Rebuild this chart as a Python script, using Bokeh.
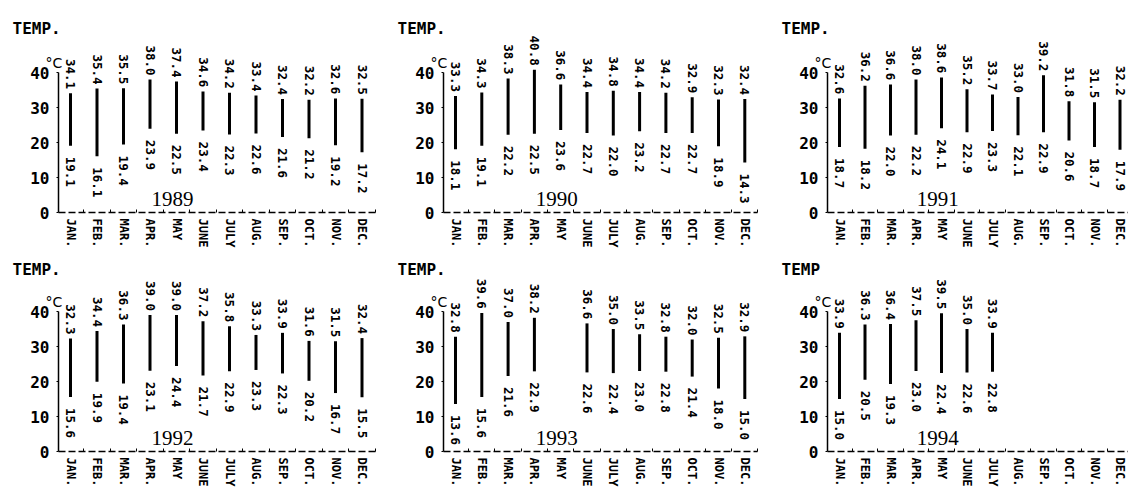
import math
from bokeh.plotting import figure
from bokeh.models import ColumnDataSource, Range1d, FixedTicker
from bokeh.layouts import gridplot
from bokeh.embed import file_html
from bokeh.resources import INLINE
from bokeh.core.properties import value

months = ["JAN.", "FEB.", "MAR.", "APR.", "MAY", "JUNE", "JULY",
          "AUG.", "SEP.", "OCT.", "NOV.", "DEC."]
y_ticks = [0, 10, 20, 30, 40]

years = ["1989", "1990", "1991", "1992", "1993", "1994"]
titles = ["TEMP.", "TEMP.", "TEMP.", "TEMP.", "TEMP.", "TEMP"]

max_1989 = [34.1, 35.4, 35.5, 38.0, 37.4, 34.6, 34.2, 33.4, 32.4, 32.2, 32.6, 32.5]
min_1989 = [19.1, 16.1, 19.4, 23.9, 22.5, 23.4, 22.3, 22.6, 21.6, 21.2, 19.2, 17.2]

max_1990 = [33.3, 34.3, 38.3, 40.8, 36.6, 34.4, 34.8, 34.4, 34.2, 32.9, 32.3, 32.4]
min_1990 = [18.1, 19.1, 22.2, 22.5, 23.6, 22.7, 22.0, 23.2, 22.7, 22.7, 18.9, 14.3]

max_1991 = [32.6, 36.2, 36.6, 38.0, 38.6, 35.2, 33.7, 33.0, 39.2, 31.8, 31.5, 32.2]
min_1991 = [18.7, 18.2, 22.0, 22.2, 24.1, 22.9, 23.3, 22.1, 22.9, 20.6, 18.7, 17.9]

max_1992 = [32.3, 34.4, 36.3, 39.0, 39.0, 37.2, 35.8, 33.3, 33.9, 31.6, 31.5, 32.4]
min_1992 = [15.6, 19.9, 19.4, 23.1, 24.4, 21.7, 22.9, 23.3, 22.3, 20.2, 16.7, 15.5]

max_1993 = [32.8, 39.6, 37.0, 38.2, None, 36.6, 35.0, 33.5, 32.8, 32.0, 32.5, 32.9]
min_1993 = [13.6, 15.6, 21.6, 22.9, None, 22.6, 22.4, 23.0, 22.8, 21.4, 18.0, 15.0]

max_1994 = [33.9, 36.3, 36.4, 37.5, 39.5, 35.0, 33.9]
min_1994 = [15.0, 20.5, 19.3, 23.0, 22.4, 22.6, 22.8]

series = [(max_1989, min_1989), (max_1990, min_1990), (max_1991, min_1991),
          (max_1992, min_1992), (max_1993, min_1993), (max_1994, min_1994)]

MONO = "DejaVu Sans Mono"
SY = 3.5  # px per degree


def panel(idx, width, sx, axis_px, height, zero_px, title_y):
    tmax, tmin = series[idx]
    xs, hi, lo = [], [], []
    for i, (a, b) in enumerate(zip(tmax, tmin)):
        if a is None or b is None:
            continue
        xs.append(i + 1)
        hi.append(a)
        lo.append(b)
    src = ColumnDataSource(dict(x=xs, hi=hi, lo=lo,
                                hi_t=["%.1f" % v for v in hi],
                                lo_t=["%.1f" % v for v in lo]))
    ax_x = 1 - 12.0 / sx
    x0 = 1 - (axis_px + 12.0) / sx
    x1 = x0 + width / sx
    y0 = -(height - zero_px) / SY
    y1 = zero_px / SY
    p = figure(width=width, height=height, output_backend="svg", toolbar_location=None,
               title=None, x_range=Range1d(x0, x1), y_range=Range1d(y0, y1),
               min_border_left=0, min_border_right=0,
               min_border_top=0, min_border_bottom=0)
    p.outline_line_color = None
    p.xgrid.visible = False
    p.ygrid.visible = False
    p.background_fill_color = "white"
    p.border_fill_color = "white"

    p.segment(x0="x", y0="lo", x1="x", y1="hi", source=src,
              line_width=3, line_color="black")
    p.text(x="x", y="hi", text="hi_t", source=src, angle=-math.pi / 2,
           text_align="right", text_baseline="middle", y_offset=-4,
           text_font=value(MONO), text_font_style="bold",
           text_font_size="12.5px", text_color="black")
    p.text(x="x", y="lo", text="lo_t", source=src, angle=-math.pi / 2,
           text_align="left", text_baseline="middle", y_offset=11,
           text_font=value(MONO), text_font_style="bold",
           text_font_size="12.5px", text_color="black")
    p.text(x=[4.85], y=[3.8], text=[years[idx]], text_align="center",
           text_baseline="middle", text_font=value("Liberation Serif"),
           text_font_size="21px", text_color="black")
    p.text(x=[ax_x], y=[title_y], text=[titles[idx]], x_offset=-46,
           text_align="left", text_baseline="alphabetic",
           text_font=value(MONO), text_font_style="bold",
           text_font_size="16px", text_color="black")
    p.text(x=[ax_x], y=[42.8], text=["°C"], x_offset=-13,
           text_align="left", text_baseline="alphabetic",
           text_font=value("DejaVu Sans"), text_font_size="14px",
           text_color="black")

    # y axis
    ya = p.yaxis[0]
    ya.fixed_location = ax_x
    ya.ticker = FixedTicker(ticks=y_ticks)
    ya.bounds = (0, 40)
    ya.axis_line_color = "black"
    ya.axis_line_width = 1.5
    ya.major_tick_in = 0
    ya.major_tick_out = 2
    ya.minor_tick_line_color = None
    ya.major_label_standoff = 7
    ya.major_label_text_font = MONO
    ya.major_label_text_font_style = "bold"
    ya.major_label_text_font_size = "16px"
    ya.major_label_text_color = "black"

    # x axis
    xa = p.xaxis[0]
    xa.fixed_location = 0
    xa.bounds = (ax_x, 12.5)
    xa.ticker = FixedTicker(ticks=list(range(1, 13)),
                            minor_ticks=[i + 0.5 for i in range(1, 13)])
    xa.major_label_overrides = {i + 1: m for i, m in enumerate(months)}
    xa.major_label_orientation = -math.pi / 2
    xa.axis_line_color = "black"
    xa.axis_line_width = 1.5
    xa.axis_line_dash = "7 3"
    xa.major_tick_in = 0
    xa.major_tick_out = 0
    xa.minor_tick_in = 3
    xa.minor_tick_out = 0
    xa.minor_tick_line_color = "black"
    xa.major_label_standoff = 6
    xa.major_label_text_font = MONO
    xa.major_label_text_font_style = "bold"
    xa.major_label_text_font_size = "12px"
    xa.major_label_text_color = "black"
    return p


# (figure width, px per month, y-axis distance from figure's left edge)
cols = [(393, 26.5, 58), (384, 26.3, 50), (351, 25.5, 50)]
# (figure height, zero line distance from figure's top, title baseline value)
rows = [(252, 212, 52.5), (243, 199, 52.0)]

grid = []
k = 0
for (h, z, ty) in rows:
    r = []
    for (w, sx, ax) in cols:
        r.append(panel(k, w, sx, ax, h, z, ty))
        k += 1
    grid.append(r)

layout = gridplot(grid, toolbar_location=None)
open("out.html", "w").write(file_html(layout, INLINE))
